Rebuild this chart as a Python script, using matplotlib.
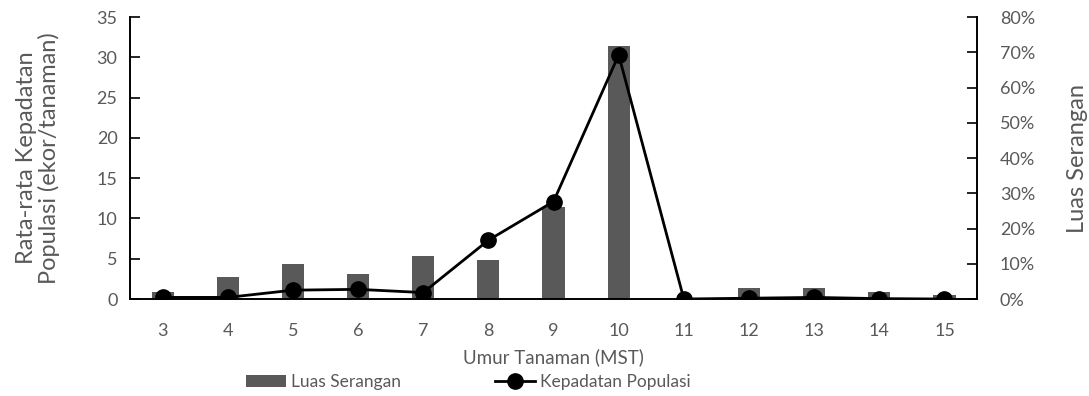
import numpy as np
import matplotlib
matplotlib.use("Agg")
import matplotlib.pyplot as plt
from matplotlib.ticker import PercentFormatter

plt.rcParams['font.family'] = ['Lato', 'DejaVu Sans']

# Umur tanaman (minggu setelah tanam)
umur = [3, 4, 5, 6, 7, 8, 9, 10, 11, 12, 13, 14, 15]
# Luas serangan (fraksi)
luas_serangan = [0.021, 0.062, 0.099, 0.071, 0.122, 0.111, 0.260, 0.718,
                 0.0, 0.030, 0.030, 0.021, 0.011]
# Rata-rata kepadatan populasi (ekor/tanaman)
kepadatan = [0.2, 0.2, 1.1, 1.2, 0.8, 7.3, 12.1, 30.3, 0.0, 0.1, 0.2, 0.05, 0.0]

grey = '#595959'
x = np.arange(len(umur))

fig = plt.figure(figsize=(10.89, 3.96), dpi=100)
ax = fig.add_axes([0.1194, 0.2449, 0.7778, 0.7121])
ax2 = ax.twinx()

bars = ax2.bar(x, luas_serangan, width=0.34, color=grey, label='Luas Serangan')
line, = ax.plot(x, kepadatan, '-o', color='black', lw=2, ms=11,
                label='Kepadatan Populasi')

ax.set_zorder(ax2.get_zorder() + 1)
ax.patch.set_visible(False)

ax.set_xlim(-0.5, len(umur) - 0.5)
ax.set_ylim(0, 35)
ax.set_yticks(range(0, 36, 5))
ax2.set_ylim(0, 0.8)
ax2.set_yticks(np.arange(0, 0.81, 0.1))
ax2.yaxis.set_major_formatter(PercentFormatter(1.0, decimals=0))

ax.set_xticks(x)
ax.set_xticklabels([str(u) for u in umur])

for a in (ax, ax2):
    a.spines['top'].set_visible(False)
    for s in ('left', 'right', 'bottom'):
        a.spines[s].set_color('black')
        a.spines[s].set_linewidth(1.2)
    a.tick_params(axis='y', direction='in', length=7, width=1.2,
                  colors='black', labelcolor=grey, labelsize=13)
    a.tick_params(axis='x', length=0, labelcolor=grey, labelsize=13, pad=17)
ax.tick_params(axis='y', pad=9)
ax2.tick_params(axis='y', pad=16.5)

ax.set_xlabel('Umur Tanaman (MST)', color=grey, fontsize=13.5, labelpad=7)
ax.set_ylabel('Rata-rata Kepadatan\nPopulasi (ekor/tanaman)', color=grey,
              fontsize=17, labelpad=26, linespacing=1.05)
ax2.set_ylabel('Luas Serangan', color=grey, fontsize=17, labelpad=23)

fig.legend(handles=[bars, line], loc='lower center', ncol=2,
           bbox_to_anchor=(0.43, -0.025), frameon=False, fontsize=12.5,
           labelcolor=grey, handlelength=2.3, handletextpad=0.3,
           columnspacing=5.4)

fig.savefig('out.png', dpi=100)
